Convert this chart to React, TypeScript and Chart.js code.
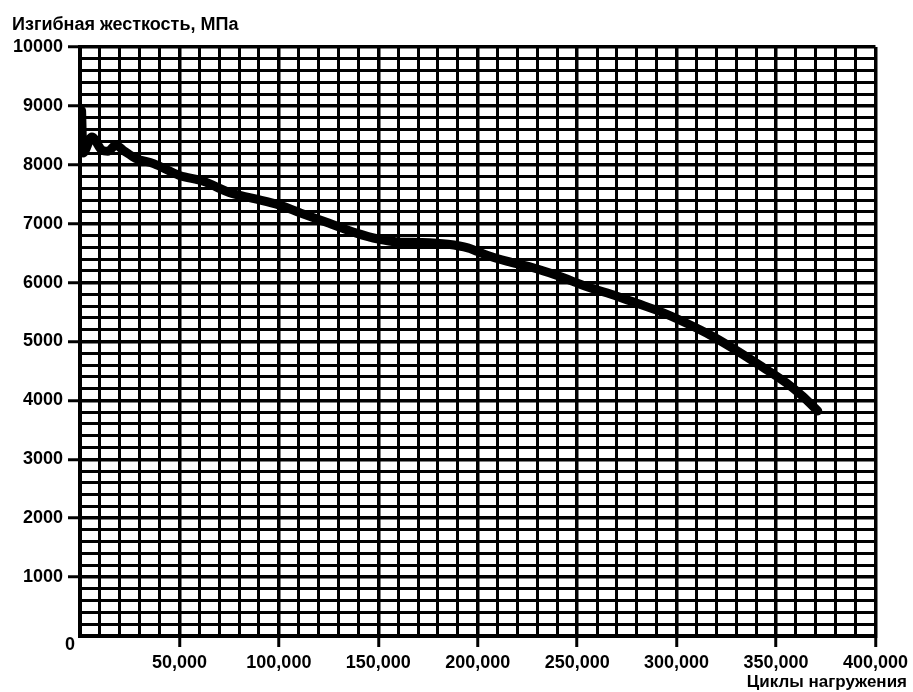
import React, { useEffect, useRef } from "react";
import { Chart, registerables } from "chart.js";

Chart.register(...registerables);

const cycles = [
  800, 1500, 6000, 11000, 14000, 18000, 22000, 28000, 37000, 50000, 62000,
  75000, 87000, 100000, 111000, 125000, 139000, 150000, 160000, 172000,
  185000, 195000, 205000, 215000, 227000, 240000, 255000, 270000, 280000,
  293000, 305000, 318000, 330000, 343000, 355000, 363000, 371000,
];
const stiffness = [
  8920, 8200, 8470, 8250, 8230, 8330, 8240, 8110, 8020, 7820, 7720,
  7530, 7430, 7320, 7180, 7010, 6840, 6740, 6690, 6680,
  6650, 6590, 6460, 6360, 6260, 6120, 5930, 5770, 5650,
  5490, 5310, 5090, 4850, 4570, 4300, 4080, 3820,
];
const xTickLabels = [50000, 100000, 150000, 200000, 250000, 300000, 350000, 400000];
const yTickLabels = [1000, 2000, 3000, 4000, 5000, 6000, 7000, 8000, 9000, 10000];

const yTitle = "Изгибная жесткость, МПа";
const xTitle = "Циклы нагружения";
const FONT = "'Liberation Sans', Arial, sans-serif";

export default function App() {
  const ref = useRef<HTMLCanvasElement | null>(null);

  useEffect(() => {
    if (!ref.current) return;
    const textPlugin = {
      id: "texts",
      afterDraw(chart: any) {
        const ctx = chart.ctx;
        const xs = chart.scales.x;
        const ys = chart.scales.y;
        ctx.save();
        ctx.fillStyle = "#000";
        ctx.textBaseline = "middle";
        ctx.font = `bold 18px ${FONT}`;
        ctx.textAlign = "left";
        ctx.fillText(yTitle, 12, 25);
        ctx.font = `bold 17px ${FONT}`;
        ctx.textAlign = "right";
        ctx.fillText(xTitle, 907, 682);
        ctx.font = `bold 18px ${FONT}`;
        ctx.textAlign = "center";
        ctx.fillText("0", xs.getPixelForValue(0) - 10, ys.getPixelForValue(0) + 9);
        ctx.restore();
      },
    };

    const isMajorX = (v: number) => xTickLabels.includes(v);
    const isMajorY = (v: number) => yTickLabels.includes(v);

    const chart = new Chart(ref.current, {
      type: "line",
      data: {
        datasets: [
          {
            data: cycles.map((c, i) => ({ x: c, y: stiffness[i] })),
            borderColor: "#000",
            borderWidth: 9,
            borderCapStyle: "round",
            borderJoinStyle: "round",
            pointRadius: 0,
            cubicInterpolationMode: "monotone",
            fill: false,
          },
        ],
      },
      options: {
        animation: false,
        responsive: false,
        maintainAspectRatio: false,
        layout: { padding: { left: 0, right: 35, top: 47, bottom: 0 } },
        plugins: { legend: { display: false }, tooltip: { enabled: false }, title: { display: false } },
        scales: {
          x: {
            type: "linear",
            min: 0,
            max: 400000,
            afterFit: (s: any) => {
              s.height = 56;
            },
            ticks: {
              stepSize: 10000,
              autoSkip: false,
              maxRotation: 0,
              padding: 5,
              color: "#000",
              font: { family: FONT, size: 18, weight: "bold" },
              callback: (v: any) => (isMajorX(Number(v)) ? Number(v).toLocaleString("en-US") : ""),
            },
            grid: {
              color: "#000",
              lineWidth: (c: any) => (c.tick && c.tick.value % 50000 === 0 ? 3.5 : 3),
              tickLength: 11,
              tickWidth: 3,
              tickColor: (c: any) => (c.tick && isMajorX(c.tick.value) ? "#000" : "rgba(0,0,0,0)"),
            },
            border: { color: "#000", width: 4 },
          },
          y: {
            type: "linear",
            min: 0,
            max: 10000,
            afterFit: (s: any) => {
              s.width = 80;
            },
            ticks: {
              stepSize: 200,
              autoSkip: false,
              padding: 5,
              color: "#000",
              font: { family: FONT, size: 18, weight: "bold" },
              callback: (v: any) => (isMajorY(Number(v)) ? String(v) : ""),
            },
            grid: {
              color: "#000",
              lineWidth: (c: any) => (c.tick && c.tick.value % 1000 === 0 ? 3.5 : 3),
              tickLength: 12,
              tickWidth: 3,
              tickColor: (c: any) => (c.tick && isMajorY(c.tick.value) ? "#000" : "rgba(0,0,0,0)"),
            },
            border: { color: "#000", width: 4 },
          },
        },
      } as any,
      plugins: [textPlugin],
    });
    return () => chart.destroy();
  }, []);

  return (
    <div style={{ position: "fixed", left: 0, top: 0, width: 913, height: 692, background: "#fff" }}>
      <canvas ref={ref} width={913} height={692} style={{ width: 913, height: 692, display: "block" }} />
    </div>
  );
}
